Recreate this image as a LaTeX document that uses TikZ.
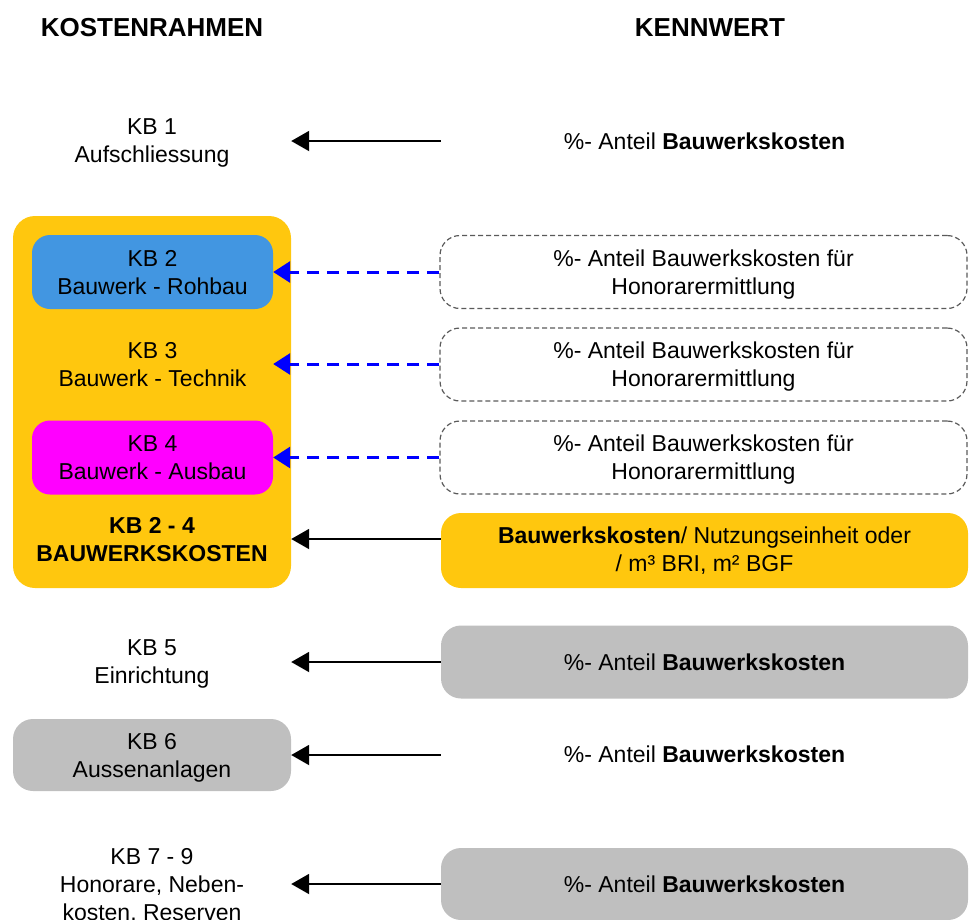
\documentclass[tikz,border=0pt]{standalone}
\usepackage{fontspec}
\setmainfont{Liberation Sans}
\usetikzlibrary{arrows.meta}
\definecolor{kborange}{RGB}{255,199,14}
\definecolor{kbblue}{RGB}{66,150,225}
\definecolor{kbmagenta}{RGB}{255,0,255}
\definecolor{kbgray}{RGB}{191,191,191}
\definecolor{kbdash}{RGB}{90,90,90}
\definecolor{kbarrowblue}{RGB}{0,0,255}
\begin{document}
\begin{tikzpicture}[x=1pt,y=-1pt,
  txt/.style={font=\fontsize{23}{28}\selectfont, align=center, inner sep=0pt},
  head/.style={font=\fontsize{26}{28}\selectfont\bfseries, inner sep=0pt},
  leftcol/.style={txt, minimum width=278pt, text depth=0pt},
  inner/.style={txt, minimum width=241pt, minimum height=74pt, rounded corners=18pt, text depth=0pt},
  rightcol/.style={txt, minimum width=527pt, minimum height=73pt, rounded corners=20pt},
  dashbox/.style={rightcol, draw=kbdash, line width=1.2pt, dash pattern=on 5pt off 3pt, text depth=0pt},
  arr/.style={draw=black, line width=2pt, -{Triangle[length=18pt,width=20pt]}},
  darr/.style={draw=kbarrowblue, line width=3pt, dash pattern=on 12pt off 8pt, -{Triangle[length=17pt,width=21pt]}}]
\useasboundingbox (0,0) rectangle (969,919);
\clip (0,0) rectangle (969,919);

% column headings
\node[head] (hl) at (152,28) {KOSTENRAHMEN};
\node[head] (hr) at (710,28) {KENNWERT};

% KB 1
\node[leftcol] (kb1) at (152,141) {KB 1\\Aufschliessung};
\node[rightcol] (r1) at (704.5,141) {\%- Anteil \textbf{Bauwerkskosten}};

% KB 2 - 4 group
\node[txt, fill=kborange, minimum width=278pt, minimum height=372pt, rounded corners=22pt] (grp) at (152,402) {};
\node[inner, fill=kbblue] (kb2) at (152.5,272) {KB 2\\Bauwerk - Rohbau};
\node[inner] (kb3) at (152.5,364) {KB 3\\Bauwerk - Technik};
\node[inner, fill=kbmagenta] (kb4) at (152.5,457.5) {KB 4\\Bauwerk - Ausbau};
\node[leftcol] (kb24) at (152,539) {\textbf{KB 2 - 4}\\\textbf{BAUWERKSKOSTEN}};

\node[dashbox] (r2) at (703.5,272) {\%- Anteil Bauwerkskosten für\\Honorarermittlung};
\node[dashbox] (r3) at (703.5,364.5) {\%- Anteil Bauwerkskosten für\\Honorarermittlung};
\node[dashbox] (r4) at (703.5,457.5) {\%- Anteil Bauwerkskosten für\\Honorarermittlung};
\node[rightcol, fill=kborange, minimum height=75pt] (r24) at (704.5,550.5) {\textbf{Bauwerkskosten}/ Nutzungseinheit oder\\/ m³ BRI, m² BGF};

% KB 5
\node[leftcol] (kb5) at (152,662) {KB 5\\Einrichtung};
\node[rightcol, fill=kbgray] (r5) at (704.5,662) {\%- Anteil \textbf{Bauwerkskosten}};

% KB 6
\node[leftcol, fill=kbgray, minimum height=72pt, rounded corners=20pt] (kb6) at (152,755) {KB 6\\Aussenanlagen};
\node[rightcol] (r6) at (704.5,754) {\%- Anteil \textbf{Bauwerkskosten}};

% KB 7 - 9
\node[leftcol] (kb79) at (152,884) {KB 7 - 9\\Honorare, Neben-\\kosten, Reserven};
\node[rightcol, fill=kbgray, minimum height=72pt] (r79) at (704.5,884) {\%- Anteil \textbf{Bauwerkskosten}};

% connectors
\draw[arr] (r1.west) -- (kb1.east);
\draw[darr] (r2.west |- kb2.east) -- (kb2.east);
\draw[darr] (r3.west |- kb3.east) -- (kb3.east);
\draw[darr] (r4.west |- kb4.east) -- (kb4.east);
\draw[arr] (r24.west |- kb24.east) -- (kb24.east);
\draw[arr] (r5.west) -- (kb5.east);
\draw[arr] (r6.west |- kb6.east) -- (kb6.east);
\draw[arr] (r79.west) -- (kb79.east);
\end{tikzpicture}
\end{document}
